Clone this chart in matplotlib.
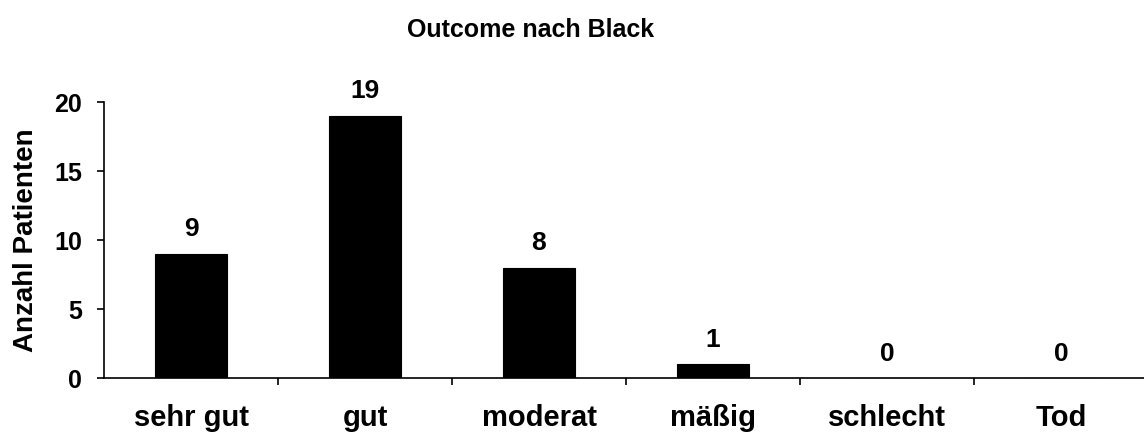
import matplotlib.pyplot as plt

# Outcome nach Black - Anzahl Patienten je Kategorie
categories = ['sehr gut', 'gut', 'moderat', 'mäßig', 'schlecht', 'Tod']
counts = [9, 19, 8, 1, 0, 0]
yticks = [0, 5, 10, 15, 20]

plt.rcParams['font.family'] = ['Liberation Sans', 'DejaVu Sans']
plt.rcParams['font.weight'] = 'bold'

fig = plt.figure(figsize=(11.44, 4.36), dpi=100)
W, H = 1144, 436
ax = fig.add_axes([104 / W, (H - 378) / H, (1148 - 104) / W, (378 - 102) / H])

x = list(range(len(categories)))
ax.bar(x, counts, width=0.41, color='black', edgecolor='black', linewidth=0.8)

for xi, c in zip(x, counts):
    ax.annotate(str(c), (xi, c), xytext=(0, 9), textcoords='offset points',
                ha='center', va='bottom', fontsize=19, fontweight='bold')

ax.set_xlim(-0.5, len(categories) - 0.5)
ax.set_ylim(0, 20)
ax.set_yticks(yticks)
ax.set_yticklabels([str(t) for t in yticks], fontsize=18, fontweight='bold')

# category labels between boundary ticks, like a spreadsheet chart
ax.set_xticks(x)
ax.set_xticklabels(categories, fontsize=21, fontweight='bold')
ax.tick_params(axis='x', length=0, pad=19)
ax.set_xticks([i + 0.5 for i in x[:-1]], minor=True)
ax.tick_params(axis='x', which='minor', length=5, width=1.2, direction='out')
ax.tick_params(axis='y', length=5, width=1.2, direction='out', pad=11)

for s in ['top', 'right']:
    ax.spines[s].set_visible(False)
for s in ['left', 'bottom']:
    ax.spines[s].set_linewidth(1.2)

ax.set_ylabel('Anzahl Patienten', fontsize=20, fontweight='bold',
              ha='center', va='center')
ax.yaxis.set_label_coords((26 - 104) / 1044, 0.5)
fig.text(531 / W, 1 - 30 / H, 'Outcome nach Black', ha='center', va='center',
         fontsize=18, fontweight='bold')

fig.savefig('out.png', dpi=100)
